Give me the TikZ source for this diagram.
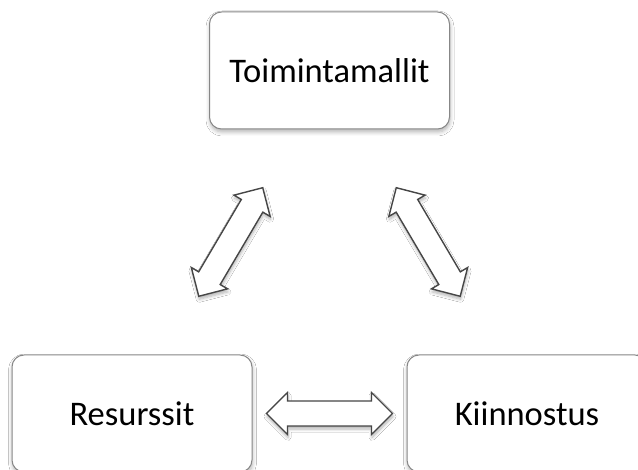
\documentclass[tikz,border=0pt]{standalone}
\usepackage{fontspec}
\setmainfont{Carlito}
\usetikzlibrary{calc,shadows.blur}
\definecolor{boxline}{RGB}{135,135,135}
\definecolor{arrline}{RGB}{70,70,70}
\tikzset{
  x=1pt,y=1pt,
  card/.style={draw=boxline,line width=1pt,rounded corners=12pt,fill=white,
    minimum width=240pt,minimum height=117pt,font=\fontsize{34.5}{40}\selectfont,
    blur shadow={shadow xshift=0.5pt,shadow yshift=-3pt,shadow blur steps=6,shadow blur radius=4pt,shadow opacity=30}},
  arrshape/.style={draw=arrline,line width=1.4pt,fill=white,line join=miter,
    blur shadow={shadow xshift=0.5pt,shadow yshift=-3pt,shadow blur steps=6,shadow blur radius=3pt,shadow opacity=30}},
  dblarrow/.pic={
    \path[arrshape] (-63,0) -- (-42,21) -- (-42,12.5) -- (42,12.5) -- (42,21) -- (63,0)
      -- (42,-21) -- (42,-12.5) -- (-42,-12.5) -- (-42,-21) -- cycle;
  }
}
\begin{document}
\begin{tikzpicture}
\useasboundingbox (0,0) rectangle (638,-470);
\fill[white] (0,0) rectangle (638,-470);
\clip (0,0) rectangle (638,-470);
\node[card] (top) at (329.5,-70.5) {Toimintamallit};
\node[card] (left) at (132,-413.5) {Resurssit};
\node[card] (right) at (527,-413.5) {Kiinnostus};
\coordinate (mL) at ($(top)!0.5!(left)$);
\coordinate (mR) at ($(top)!0.5!(right)$);
\coordinate (mB) at ($(left)!0.5!(right)$);
\pic[rotate=59.5] (aL) at (mL) {dblarrow};
\pic[rotate=-59.5] (aR) at (mR) {dblarrow};
\pic (aB) at (mB) {dblarrow};
\end{tikzpicture}
\end{document}
